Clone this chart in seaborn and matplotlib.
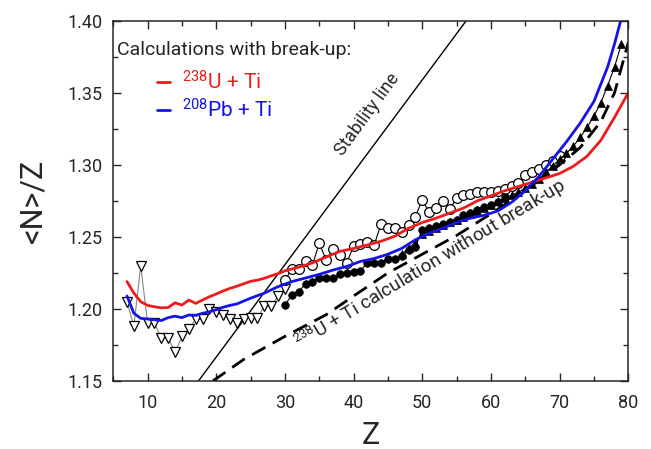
import numpy as np
import pandas as pd
import matplotlib
matplotlib.use("Agg")
import matplotlib.pyplot as plt
import seaborn as sns
from matplotlib.ticker import MultipleLocator, FormatStrFormatter
from matplotlib.lines import Line2D

# ---------------- data ----------------
# open down-triangles (light fragments)
tri_z = list(range(7, 31))
tri_y = [1.205, 1.188, 1.230, 1.190, 1.190, 1.180, 1.180, 1.170, 1.181, 1.186,
         1.193, 1.193, 1.200, 1.198, 1.196, 1.193, 1.190, 1.193, 1.194, 1.194,
         1.202, 1.202, 1.209, 1.214]

# open circles
ocirc_z = list(range(30, 71))
ocirc_y = [1.220, 1.2275, 1.228, 1.233, 1.2305, 1.2455, 1.234, 1.2416, 1.2374, 1.232,
           1.2437, 1.245, 1.2467, 1.2444, 1.259, 1.2564, 1.2564, 1.2536, 1.258, 1.264,
           1.2758, 1.267, 1.270, 1.275, 1.2695, 1.2768, 1.279, 1.2795, 1.281, 1.2814,
           1.2814, 1.282, 1.283, 1.285, 1.2876, 1.293, 1.295, 1.297, 1.300, 1.303, 1.306]

# filled circles
fcirc_z = list(range(30, 63))
fcirc_y = [1.2027, 1.2097, 1.212, 1.2175, 1.2189, 1.2217, 1.2213, 1.2213, 1.2242, 1.2247,
           1.2258, 1.2265, 1.232, 1.232, 1.232, 1.235, 1.235, 1.2367, 1.241, 1.243,
           1.2548, 1.256, 1.2576, 1.259, 1.2605, 1.262, 1.265, 1.2664, 1.2686, 1.271,
           1.272, 1.274, 1.2775]

# filled up-triangles
ftri_z = list(range(47, 80))
ftri_y = [1.238, 1.242, 1.246, 1.252, 1.254, 1.256, 1.258, 1.260, 1.262, 1.264,
          1.266, 1.268, 1.270, 1.272, 1.275, 1.277, 1.279, 1.281, 1.284, 1.287,
          1.290, 1.295, 1.299, 1.304, 1.308, 1.313, 1.319, 1.326, 1.334, 1.343,
          1.355, 1.368, 1.384]

# calculation with break-up: 238U + Ti (red)
u_z = [7, 8, 9, 10, 11, 12, 13, 14, 15, 16, 17, 18, 19, 20, 21, 22, 23, 24, 25, 26,
       27, 28, 29, 30, 32, 34, 36, 38, 40, 42, 44, 46, 48, 50, 52, 54, 56, 58, 60,
       62, 64, 66, 68, 70, 72, 74, 76, 78, 80]
u_y = [1.219, 1.211, 1.205, 1.2025, 1.2015, 1.2008, 1.201, 1.2043, 1.2027, 1.2062,
       1.2039, 1.2062, 1.2085, 1.2104, 1.2125, 1.2143, 1.2158, 1.2175, 1.2192, 1.220,
       1.2213, 1.223, 1.2245, 1.2265, 1.229, 1.232, 1.236, 1.240, 1.242, 1.2444,
       1.247, 1.2505, 1.256, 1.260, 1.263, 1.2665, 1.270, 1.275, 1.2785,
       1.282, 1.285, 1.288, 1.291, 1.294, 1.299, 1.306, 1.317, 1.333, 1.350]

# calculation with break-up: 208Pb + Ti (blue)
pb_z = [7, 7.5, 8, 9, 10, 11, 12, 13, 14, 15, 16, 17, 18, 19, 20, 21, 22, 23, 24, 25,
        27, 29, 31, 33, 35, 37, 39, 41, 43, 45, 47, 49, 51, 53, 55, 57, 59, 61, 63,
        65, 67, 69, 71, 73, 75, 77, 78, 79]
pb_y = [1.209, 1.203, 1.197, 1.1935, 1.193, 1.1925, 1.192, 1.194, 1.195, 1.194,
        1.1958, 1.1955, 1.197, 1.198, 1.1995, 1.2012, 1.2025, 1.2035, 1.2055, 1.2075,
        1.211, 1.2155, 1.219, 1.2215, 1.224, 1.227, 1.2295, 1.233, 1.235, 1.238,
        1.242, 1.248, 1.2525, 1.256, 1.260, 1.263, 1.265, 1.268, 1.274,
        1.282, 1.292, 1.304, 1.316, 1.329, 1.344, 1.368, 1.384, 1.402]

# 238U + Ti calculation without break-up (black dashed)
nob_z = [19.5, 24, 30, 36, 40, 45, 50, 55, 60, 65, 70, 73, 76, 78, 80]
nob_y = [1.150, 1.165, 1.181, 1.196, 1.209, 1.225, 1.238, 1.251, 1.266, 1.282,
         1.300, 1.312, 1.330, 1.350, 1.385]

# stability line
stab_z = [17.4, 56.4]
stab_y = [1.15, 1.40]

x_ticks = [10, 20, 30, 40, 50, 60, 70, 80]
y_ticks = [1.15, 1.20, 1.25, 1.30, 1.35, 1.40]

# ---------------- style ----------------
sns.set_style("ticks")
plt.rcParams["font.family"] = ["Roboto", "DejaVu Sans"]
plt.rcParams["mathtext.default"] = "regular"
plt.rcParams["axes.linewidth"] = 1.1

RED = "#ee1c1c"
BLUE = "#1414e6"

fig = plt.figure(figsize=(6.51, 4.49), dpi=100)
ax = fig.add_axes([0.174, 0.1514, 0.7911, 0.8024])

def df(z, y):
    return pd.DataFrame({"Z": z, "NZ": y})

# stability line
sns.lineplot(data=df(stab_z, stab_y), x="Z", y="NZ", ax=ax, color="black", lw=1.0)

# experimental data
sns.lineplot(data=df(tri_z, tri_y), x="Z", y="NZ", ax=ax, color="#888888", lw=0.8,
             marker="v", markersize=7, markerfacecolor="white",
             markeredgecolor="black", markeredgewidth=0.9)
sns.lineplot(data=df(ocirc_z, ocirc_y), x="Z", y="NZ", ax=ax, color="black", lw=0.8,
             marker="o", markersize=7, markerfacecolor="white",
             markeredgecolor="black", markeredgewidth=0.9)
sns.lineplot(data=df(fcirc_z, fcirc_y), x="Z", y="NZ", ax=ax, color="black", lw=0.8,
             marker="o", markersize=5.5, markerfacecolor="black",
             markeredgecolor="black", markeredgewidth=0.5)
sns.lineplot(data=df(ftri_z, ftri_y), x="Z", y="NZ", ax=ax, color="black", lw=0.8,
             marker="^", markersize=5.5, markerfacecolor="black",
             markeredgecolor="black", markeredgewidth=0.5)

# calculations
sns.lineplot(data=df(nob_z, nob_y), x="Z", y="NZ", ax=ax, color="black", lw=2.0,
             linestyle=(0, (5.5, 3)))
sns.lineplot(data=df(u_z, u_y), x="Z", y="NZ", ax=ax, color=RED, lw=2.0)
sns.lineplot(data=df(pb_z, pb_y), x="Z", y="NZ", ax=ax, color=BLUE, lw=2.0)

# ---------------- axes ----------------
ax.set_xlim(5, 80)
ax.set_ylim(1.15, 1.40)
ax.set_xticks(x_ticks)
ax.set_yticks(y_ticks)
ax.xaxis.set_minor_locator(MultipleLocator(5))
ax.yaxis.set_minor_locator(MultipleLocator(0.025))
ax.yaxis.set_major_formatter(FormatStrFormatter("%.2f"))
ax.tick_params(which="both", direction="in", top=True, right=True, width=1.0)
ax.tick_params(which="major", length=6)
ax.tick_params(which="minor", length=3.5)
ax.tick_params(axis="x", which="major", pad=9, labelsize=13)
ax.tick_params(axis="y", which="major", pad=8, labelsize=13)
for s in ax.spines.values():
    s.set_visible(True)
    s.set_linewidth(1.1)

ax.set_xlabel("Z", fontsize=22, labelpad=7)
ax.set_ylabel("<N>/Z", fontsize=22, labelpad=14)

# ---------------- annotations ----------------
ax.text(42.0, 1.335, "Stability line", rotation=54, fontsize=13,
        ha="center", va="center", rotation_mode="anchor")
ax.text(51.2, 1.231, "$^{238}$U + Ti calculation without break-up", rotation=31,
        fontsize=13.5, ha="center", va="center", rotation_mode="anchor")

ax.text(0.007, 0.919, "Calculations with break-up:", transform=ax.transAxes,
        fontsize=14, ha="left", va="center")
handles = [Line2D([], [], color=RED, lw=2), Line2D([], [], color=BLUE, lw=2)]
labels = ["$^{238}$U + Ti", "$^{208}$Pb + Ti"]
leg = ax.legend(handles, labels, loc="upper left", bbox_to_anchor=(0.085, 0.862),
                frameon=False, fontsize=15, handlelength=0.6, handletextpad=0.6,
                labelspacing=0.2, borderpad=0, borderaxespad=0,
                labelcolor="linecolor")

fig.savefig("out.png", dpi=100)
